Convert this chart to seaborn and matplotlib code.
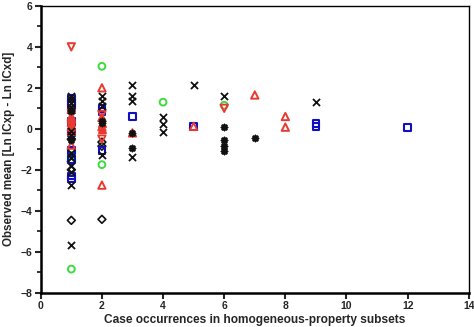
import matplotlib
matplotlib.use("Agg")
import matplotlib.pyplot as plt
import seaborn as sns
import pandas as pd

# ---- data ----
x_cross = [1]*13 + [2]*4 + [3]*4 + [4]*3 + [5, 6, 9]
y_cross = [1.6, 1.45, 1.25, 1.05, 0.9, -0.1, -0.3, -1.2, -1.45, -1.8, -2.1, -2.75, -5.67,
           1.6, 1.35, 1.1, -1.3,
           2.15, 1.6, 1.35, -1.4,
           0.6, 0.25, -0.15,
           2.13, 1.6, 1.3]

x_square = [1]*9 + [2]*3 + [3, 5, 9, 9, 12]
y_square = [1.5, 1.3, 1.15, 0.35, -0.2, -1.05, -1.5, -2.3, -2.45,
            1.0, 0.85, -1.05,
            0.6, 0.12, 0.25, 0.12, 0.05]

x_tri_up = [1]*5 + [2]*4 + [3, 5, 7, 8, 8]
y_tri_up = [0.95, 0.6, 0.3, 0.1, -0.8,
            2.0, 0.55, 0.1, -2.75,
            -0.2, 0.12, 1.65, 0.6, 0.08]

x_tri_fill = [1, 1, 1, 1, 2, 2]
y_tri_fill = [0.5, 0.2, 0.0, -0.1, 0.0, 0.3]

x_tri_down = [1, 1, 1, 2, 2, 6]
y_tri_down = [4.0, 0.75, 0.15, 0.7, -0.5, 1.0]

x_circle = [1, 1, 2, 2, 4, 6]
y_circle = [-6.85, -1.3, 3.05, -1.75, 1.3, 1.15]

x_diamond = [1, 1, 1, 1, 2, 2, 2]
y_diamond = [-4.47, -2.0, -0.5, -1.6, -4.42, -0.65, -0.85]

x_star = [1, 1, 2, 2, 3, 3, 6, 6, 6, 6, 7]
y_star = [0.85, -0.55, 0.4, 0.3, -0.2, -0.95, 0.07, -0.55, -0.85, -1.1, -0.45]

x_ticks = [0, 2, 4, 6, 8, 10, 12, 14]
y_ticks = [-8, -6, -4, -2, 0, 2, 4, 6]

sns.set_style("white")
plt.rcParams["font.family"] = ["Liberation Sans", "DejaVu Sans"]
plt.rcParams["font.weight"] = "bold"

fig = plt.figure(figsize=(4.74, 3.27), dpi=100)
ax = fig.add_axes([0.086, 0.105, 0.903, 0.877])

BLUE = "#1010c0"
RED = "#e83a30"
GREEN = "#3ddc3d"
BLACK = "#111111"

def sc(xs, ys, marker, fc, ec, s=28, lw=1.3):
    df = pd.DataFrame({"x": xs, "y": ys})
    sns.scatterplot(data=df, x="x", y="y", marker=marker, s=s, ax=ax,
                    facecolor=fc, edgecolor=ec, linewidth=lw, zorder=3)

sc(x_diamond, y_diamond, "D", "none", BLACK, s=16, lw=1.2)
sc(x_circle, y_circle, "o", "none", GREEN, s=24, lw=1.4)
sc(x_square, y_square, "s", "none", BLUE, s=24, lw=1.5)
sc(x_tri_down, y_tri_down, "v", "none", RED, s=28, lw=1.4)
sc(x_tri_up, y_tri_up, "^", "none", RED, s=28, lw=1.4)
sc(x_tri_fill, y_tri_fill, "^", RED, RED, s=28, lw=1.2)
df_x = pd.DataFrame({"x": x_cross, "y": y_cross})
sns.scatterplot(data=df_x, x="x", y="y", marker="x", s=26, ax=ax,
                color=BLACK, linewidth=1.3, zorder=4)
df_s = pd.DataFrame({"x": x_star, "y": y_star})
sns.scatterplot(data=df_s, x="x", y="y", marker=(8, 2, 0), s=18, ax=ax,
                color=BLACK, linewidth=1.3, zorder=4)

ax.set_xlim(0, 14)
ax.set_ylim(-8, 6)
ax.set_xticks(x_ticks)
ax.set_yticks(y_ticks)
ax.set_yticks([-7, -5, -3, -1, 1, 3, 5], minor=True)
ax.tick_params(axis="both", which="major", direction="out", length=4, width=1.5,
               labelsize=7.5, pad=2, left=True, bottom=True)
ax.tick_params(axis="y", which="minor", direction="out", length=3, width=1.3, left=True)
for lab in ax.get_xticklabels() + ax.get_yticklabels():
    lab.set_fontweight("bold")

for side in ["left", "bottom"]:
    ax.spines[side].set_linewidth(1.8)
    ax.spines[side].set_color("black")
for side in ["top", "right"]:
    ax.spines[side].set_linewidth(1.0)
    ax.spines[side].set_color("black")
    ax.spines[side].set_visible(True)

ax.set_xlabel("Case occurrences in homogeneous-property subsets", fontsize=8.6,
              fontweight="bold", labelpad=2)
ax.set_ylabel("Observed mean [Ln ICxp - Ln ICxd]", fontsize=8.4,
              fontweight="bold", labelpad=4)
ax.grid(False)

fig.savefig("out.png", dpi=100)
